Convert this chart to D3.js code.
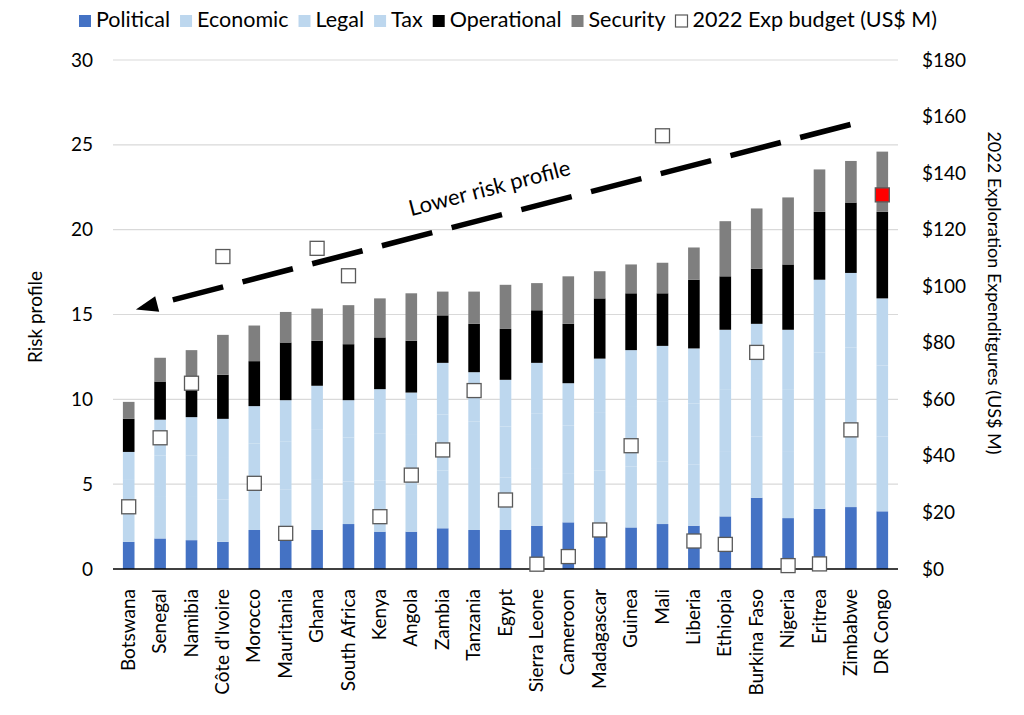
<!DOCTYPE html>
<html><head><meta charset="utf-8">
<script src="https://cdn.jsdelivr.net/npm/d3@7"></script>
<style>
body{margin:0;background:#fff;}
svg{font-family:Lato,"Open Sans",sans-serif;}
</style></head>
<body><svg id="chart" width="1024" height="715"></svg>
<script>
const countries = ["Botswana","Senegal","Namibia","Côte d'Ivoire","Morocco","Mauritania","Ghana","South Africa","Kenya","Angola","Zambia","Tanzania","Egypt","Sierra Leone","Cameroon","Madagascar","Guinea","Mali","Liberia","Ethiopia","Burkina Faso","Nigeria","Eritrea","Zimbabwe","DR Congo"];
const political   = [1.6,1.8,1.7,1.6,2.3,1.8,2.3,2.65,2.2,2.2,2.4,2.3,2.3,2.55,2.75,2.3,2.45,2.65,2.55,3.1,4.2,3.0,3.55,3.65,3.4];
const economic    = [1.9,2.5,2.6,2.5,2.6,2.9,3.0,2.5,3.0,2.9,3.4,3.3,3.1,3.4,2.9,3.5,3.6,3.7,3.6,3.8,3.6,3.9,4.7,4.8,4.4];
const legal       = [1.8,2.4,2.4,2.5,2.5,2.8,2.9,2.6,2.8,2.8,3.3,3.1,3.0,3.2,2.8,3.4,3.5,3.5,3.6,3.7,3.4,3.7,4.5,4.6,4.2];
const tax         = [1.6,2.1,2.25,2.25,2.2,2.45,2.6,2.2,2.6,2.5,3.05,2.9,2.75,3.0,2.5,3.2,3.35,3.3,3.25,3.5,3.25,3.5,4.3,4.4,3.95];
const operational = [1.95,2.25,2.25,2.6,2.65,3.4,2.65,3.3,3.05,3.05,2.8,2.85,3.0,3.1,3.5,3.55,3.35,3.1,4.05,3.15,3.25,3.85,4.0,4.15,5.1];
const security    = [1.0,1.4,1.7,2.35,2.1,1.8,1.9,2.3,2.3,2.8,1.4,1.9,2.6,1.6,2.8,1.6,1.7,1.8,1.9,3.25,3.55,3.95,2.5,2.45,3.55];
const budget      = [22.0,46.4,65.7,110.5,30.3,12.6,113.4,103.7,18.5,33.2,42.1,63.1,24.4,1.7,4.4,13.8,43.6,153.2,9.9,8.7,76.6,1.2,1.8,49.2,132.3];
const leftTicks  = [0,5,10,15,20,25,30];
const rightTicks = [0,20,40,60,80,100,120,140,160,180];
const seriesNames = ["Political","Economic","Legal","Tax","Operational","Security"];
const seriesColors = ["#4472C4","#BDD7EE","#BDD7EE","#BDD7EE","#000000","#7F7F7F"];
const budgetLabel = "2022 Exp budget (US$ M)";
const highlight = "DR Congo";

const svg = d3.select("#chart");
const M = {l:113, r:898, t:60, b:569};
const x = d3.scaleBand().domain(countries).range([M.l, M.r]).paddingInner(0.63).paddingOuter(0.315);
const yL = d3.scaleLinear().domain([0,30]).range([M.b, M.t]);
const yR = d3.scaleLinear().domain([0,180]).range([M.b, M.t]);

// gridlines
svg.append("g").selectAll("line").data(leftTicks.filter(d=>d>0)).join("line")
  .attr("x1",M.l).attr("x2",M.r).attr("y1",d=>yL(d)).attr("y2",d=>yL(d))
  .attr("stroke","#D9D9D9").attr("stroke-width",1.2);

// stacked data
const rows = countries.map((c,i)=>({country:c, Political:political[i], Economic:economic[i], Legal:legal[i], Tax:tax[i], Operational:operational[i], Security:security[i]}));
const stack = d3.stack().keys(seriesNames)(rows);
svg.append("g").selectAll("g").data(stack).join("g")
  .attr("fill",(d,i)=>seriesColors[i])
  .selectAll("rect").data(d=>d).join("rect")
  .attr("x",d=>x(d.data.country)).attr("width",x.bandwidth())
  .attr("y",d=>yL(d[1])).attr("height",d=>yL(d[0])-yL(d[1]));

// x axis line
svg.append("line").attr("x1",M.l).attr("x2",M.r).attr("y1",M.b).attr("y2",M.b)
  .attr("stroke","#000").attr("stroke-width",1.5);

// left axis
const la = svg.append("g").attr("transform",`translate(${M.l-14},0)`)
  .call(d3.axisLeft(yL).tickValues(leftTicks).tickSize(0).tickPadding(6));
la.select(".domain").remove();
la.selectAll("text").attr("font-size",19).attr("fill","#000").attr("font-family","Lato");

// right axis
const ra = svg.append("g").attr("transform",`translate(${M.r+16},0)`)
  .call(d3.axisRight(yR).tickValues(rightTicks).tickSize(0).tickPadding(8).tickFormat(d=>"$"+d));
ra.select(".domain").remove();
ra.selectAll("text").attr("font-size",19).attr("fill","#000").attr("font-family","Lato");

// category labels
svg.append("g").selectAll("text").data(countries).join("text")
  .attr("transform",d=>`translate(${x(d)+x.bandwidth()/2+6},${M.b+20}) rotate(-90)`)
  .attr("text-anchor","end").attr("font-size",19).attr("fill","#000").text(d=>d);

// axis titles
svg.append("text").attr("transform",`translate(42,317) rotate(-90)`)
  .attr("text-anchor","middle").attr("font-size",19).attr("fill","#000").text("Risk profile");
svg.append("text").attr("transform",`translate(988,293) rotate(90)`)
  .attr("text-anchor","middle").attr("font-size",18).attr("fill","#000").text("2022 Exploration Expenditgures (US$ M)");

// arrow annotation
const ax1 = x("DR Congo") - 26, ay1 = yL(26.2);
const ax2 = x("Botswana") + 13, ay2 = yL(15.3);
const ang = Math.atan2(ay2-ay1, ax2-ax1);
const headLen = 22, headW = 8;
const bx = ax2 - headLen*Math.cos(ang), by = ay2 - headLen*Math.sin(ang);
svg.append("line").attr("x1",ax1).attr("y1",ay1).attr("x2",bx+3*Math.cos(ang)).attr("y2",by+3*Math.sin(ang))
  .attr("stroke","#000").attr("stroke-width",5.5).attr("stroke-dasharray","52 20");
svg.append("path").attr("d",`M${ax2},${ay2}L${bx - headW*Math.sin(ang)},${by + headW*Math.cos(ang)}L${bx + headW*Math.sin(ang)},${by - headW*Math.cos(ang)}Z`)
  .attr("fill","#000");
svg.append("text").attr("transform",`translate(490,190) rotate(${ang*180/Math.PI-180})`)
  .attr("text-anchor","middle").attr("dominant-baseline","middle").attr("font-size",22).attr("fill","#000").text("Lower risk profile");

// budget squares
const sq = 14;
svg.append("g").selectAll("rect").data(countries).join("rect")
  .attr("x",d=>x(d)+x.bandwidth()/2-sq/2).attr("y",(d,i)=>yR(budget[i])-sq/2)
  .attr("width",sq).attr("height",sq)
  .attr("fill",d=>d===highlight?"#FF0000":"#FFFFFF")
  .attr("stroke","#595959").attr("stroke-width",1.3);

// legend
const leg = svg.append("g").attr("font-size",21.5);
const items = seriesNames.map((n,i)=>({name:n,color:seriesColors[i],box:false})).concat([{name:budgetLabel,color:"#fff",box:true}]);
let lx = 79;
items.forEach(it=>{
  leg.append("rect").attr("x",lx).attr("y",15).attr("width",12).attr("height",12)
    .attr("fill",it.color).attr("stroke",it.box?"#595959":"none").attr("stroke-width",1.2);
  const t = leg.append("text").attr("x",lx+17).attr("y",22).attr("dominant-baseline","middle").attr("fill","#000").text(it.name);
  lx += 17 + t.node().getComputedTextLength() + 10;
});
</script></body></html>
